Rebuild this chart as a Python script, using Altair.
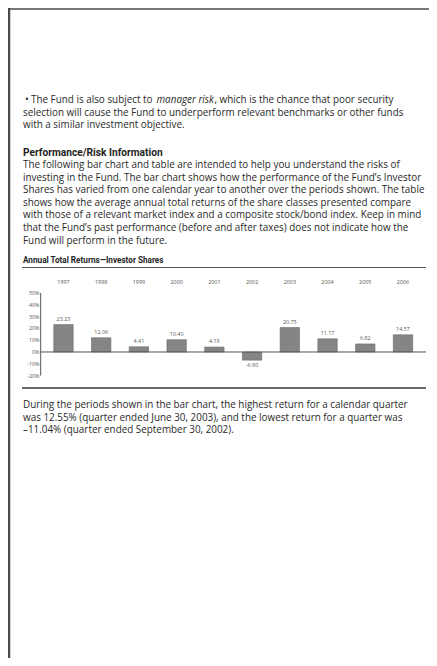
import altair as alt
import pandas as pd

# ---- data ----
years = [1997, 1998, 1999, 2000, 2001, 2002, 2003, 2004, 2005, 2006]
returns = [23.23, 12.06, 4.41, 10.40, 4.19, -6.90, 20.75, 11.17, 6.82, 14.57]
tick_values = [50, 40, 30, 20, 10, 0, -10, -20]
tick_labels = ["50%", "40%", "30%", "20%", "10%", "0%", "-10%", "-20%"]

bullet_lines = [
    "selection will cause the Fund to underperform relevant benchmarks or other funds",
    "with a similar investment objective.",
]
bullet_first = ["The Fund is also subject to", "manager risk", ", which is the chance that poor security"]
header = "Performance/Risk Information"
body_lines = [
    "The following bar chart and table are intended to help you understand the risks of",
    "investing in the Fund. The bar chart shows how the performance of the Fund\u2019s Investor",
    "Shares has varied from one calendar year to another over the periods shown. The table",
    "shows how the average annual total returns of the share classes presented compare",
    "with those of a relevant market index and a composite stock/bond index. Keep in mind",
    "that the Fund\u2019s past performance (before and after taxes) does not indicate how the",
    "Fund will perform in the future.",
]
chart_title = "Annual Total Returns\u2014Investor Shares"
footer_lines = [
    "During the periods shown in the bar chart, the highest return for a calendar quarter",
    "was 12.55% (quarter ended June 30, 2003), and the lowest return for a quarter was",
    "\u201311.04% (quarter ended September 30, 2002).",
]

W, H = 421, 650
OFF = 8  # page margin
FONT = "Open Sans"
HFONT = "Roboto"
TXT = "#2a2a2a"
FS = 9.9
LH = 12.6

df = pd.DataFrame({"year": years, "ret": returns, "base": [0] * len(years),
                   "lab": [f"{r:.2f}" for r in returns]})
ticks = pd.DataFrame({"v": tick_values, "lab": tick_labels})
zero_df = pd.DataFrame({"v": [0]})
axis_df = pd.DataFrame({"top": [max(tick_values)], "bot": [min(tick_values)]})

xs = alt.Scale(domain=[1995.662, 2006.557], nice=False, zero=False)
ys = alt.Scale(domain=[-259.3, 291.5], nice=False, zero=False)


def px(v):
    return v - OFF


def text_layer(s, x, y, size=FS, weight="normal", style="normal", color=TXT, align="left", font=FONT):
    return alt.Chart(pd.DataFrame({"t": [s]})).mark_text(
        font=font, fontSize=size, fontWeight=weight, fontStyle=style, color=color,
        align=align, baseline="middle"
    ).encode(text="t:N", x=alt.value(px(x)), y=alt.value(px(y)))


layers = []
edge = pd.DataFrame({"a": [0]})

# page border (scan edge)
layers.append(alt.Chart(edge).mark_rule(color="#4a4a4a", strokeWidth=2.5).encode(
    x=alt.value(1), y=alt.value(0), y2=alt.value(H)))
layers.append(alt.Chart(edge).mark_rule(color="#4a4a4a", strokeWidth=1.5).encode(
    x=alt.value(0), x2=alt.value(W), y=alt.value(1)))

# bullet paragraph
LX = 23
layers.append(text_layer("\u2022", 25, 100, size=9.9))
layers.append(text_layer(bullet_first[0], 31, 100))
layers.append(text_layer(bullet_first[1], 156.5, 100, style="italic"))
layers.append(text_layer(bullet_first[2], 214.5, 100))
for i, s in enumerate(bullet_lines):
    layers.append(text_layer(s, LX, 100 + LH * (i + 1)))

# header + body
layers.append(text_layer(header, LX, 152.5, size=10.2, weight="bold", color="#1e1e1e", font=HFONT))
for i, s in enumerate(body_lines):
    layers.append(text_layer(s, LX, 165 + LH * i))

# chart title + underline
layers.append(text_layer(chart_title, LX, 260.5, size=8.2, weight="bold", color="#262626", font=HFONT))
layers.append(alt.Chart(edge).mark_rule(color="#555555", strokeWidth=1).encode(
    x=alt.value(px(22)), x2=alt.value(px(426)), y=alt.value(px(267.5))))

# bars
bars = alt.Chart(df).mark_bar(size=19.4, color="#858585", stroke="#6a6a6a", strokeWidth=0.6).encode(
    x=alt.X("year:Q", scale=xs, axis=None),
    y=alt.Y("ret:Q", scale=ys, axis=None),
    y2="base:Q",
)
layers.append(bars)

# zero line and y axis line
layers.append(alt.Chart(zero_df).mark_rule(color="#555555", strokeWidth=1).encode(
    y=alt.Y("v:Q", scale=ys, axis=None), x=alt.value(px(40.7)), x2=alt.value(px(426))))
layers.append(alt.Chart(axis_df).mark_rule(color="#555555", strokeWidth=1).encode(
    y=alt.Y("top:Q", scale=ys, axis=None), y2="bot:Q", x=alt.value(px(40.7))))

# year labels
layers.append(alt.Chart(df).mark_text(font=FONT, fontSize=5.4, color="#555555", baseline="middle").encode(
    x=alt.X("year:Q", scale=xs, axis=None), y=alt.value(px(282)), text="year:N"))

# tick labels
layers.append(alt.Chart(ticks).mark_text(font=FONT, fontSize=5.4, color="#555555", align="right",
                                         baseline="middle").encode(
    x=alt.value(px(39.5)), y=alt.Y("v:Q", scale=ys, axis=None), text="lab:N"))

# value labels
layers.append(alt.Chart(df).transform_filter("datum.ret >= 0").mark_text(
    font=FONT, fontSize=5.4, color="#555555", baseline="bottom", dy=-3).encode(
    x=alt.X("year:Q", scale=xs, axis=None), y=alt.Y("ret:Q", scale=ys, axis=None), text="lab:N"))
layers.append(alt.Chart(df).transform_filter("datum.ret < 0").mark_text(
    font=FONT, fontSize=5.4, color="#555555", baseline="top", dy=3).encode(
    x=alt.X("year:Q", scale=xs, axis=None), y=alt.Y("ret:Q", scale=ys, axis=None), text="lab:N"))

# separator under chart
layers.append(alt.Chart(edge).mark_rule(color="#3a3a3a", strokeWidth=1.4).encode(
    x=alt.value(px(22)), x2=alt.value(px(426)), y=alt.value(px(388))))

# footer paragraph
for i, s in enumerate(footer_lines):
    layers.append(text_layer(s, LX, 405 + LH * i))

chart = alt.layer(*layers).properties(
    width=W, height=H, padding=0, autosize=alt.AutoSizeParams(type="none"),
    background="white"
).configure_view(stroke=None)

chart.save("out.html", embed_options={"renderer": "svg", "actions": False})
